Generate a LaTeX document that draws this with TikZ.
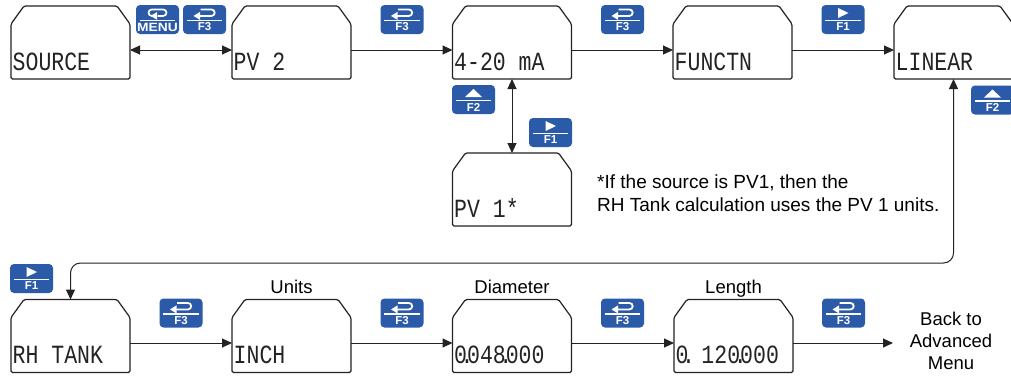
\documentclass[tikz,border=0pt]{standalone}
\usepackage{graphicx}
\usepackage{fontspec}
\setmainfont{Liberation Sans}
\newfontfamily\lcdfont{Liberation Mono}
\usetikzlibrary{arrows.meta}
\definecolor{keyblue}{RGB}{42,90,168}
\definecolor{linegray}{RGB}{35,35,35}
\newcommand\lcd[1]{\scalebox{1}[1.22]{\lcdfont\fontsize{21.5}{22}\selectfont #1}}
\newcommand\dotpt{\makebox[0pt]{.}}
\tikzset{
  x=1pt, y=-1pt,
  boxnode/.style={rectangle, draw=none, minimum width=119pt, minimum height=73pt, inner sep=0pt, outer sep=0pt},
  boxline/.style={draw=linegray, line width=1.2pt, rounded corners=1.5pt},
  lcdlabel/.style={anchor=base west, inner sep=0pt, text=linegray},
  keynode/.style={rectangle, rounded corners=4pt, fill=keyblue, draw=none, minimum width=43pt, minimum height=29pt, inner sep=0pt},
  keylabel/.style={text=white, inner sep=0pt, font=\bfseries\fontsize{11.5}{12}\selectfont},
  arr/.style={-{Triangle[length=10pt,width=9pt]}, line width=1pt, draw=linegray},
  dbl/.style={{Triangle[length=10pt,width=9pt]}-{Triangle[length=10pt,width=9pt]}, line width=1pt, draw=linegray},
  lbl/.style={inner sep=0pt, font=\fontsize{18.5}{22}\selectfont},
  retkey/.pic={
    \draw[white, line width=1.8pt] (-4,-10) -- (7,-10) arc[start angle=-90, end angle=90, radius=3.2] -- (-5,-3.6);
    \fill[white] (-11,-3.6) -- (-4.5,-7.6) -- (-4.5,0.4) -- cycle;
  },
  menukey/.pic={
    \draw[white, line width=1.7pt, rounded corners=3.2pt] (0,-3.6) -- (9,-3.6) -- (9,-10) -- (-9,-10) -- (-9,-3.6) -- (-6,-3.6);
    \fill[white] (-7,-3.6) -- (-0.5,-7.4) -- (-0.5,0.2) -- cycle;
  },
  rightkey/.pic={
    \fill[white] (-5,-11.5) -- (5.5,-6.5) -- (-5,-1.5) -- cycle;
  },
  upkey/.pic={
    \fill[white] (-8.5,-2.5) -- (0,-10.5) -- (8.5,-2.5) -- cycle;
  }
}
\newcommand\lcdbox[3]{%
  \node[boxnode] (#1) at (#2) {};
  \draw[boxline] (#1.south west) -- ([yshift=-18pt]#1.north west) -- ([xshift=13pt]#1.north west)
     -- ([xshift=-13pt]#1.north east) -- ([yshift=-18pt]#1.north east) -- (#1.south east) -- cycle;
  \node[lcdlabel] (#1-t) at ([xshift=1.5pt,yshift=9pt]#1.south west) {\lcd{#3}};
}
\newcommand\keybtn[4]{%
  \node[keynode] (#1) at (#2) {};
  \pic at (#1.center) {#3};
  \draw[white, line width=1.4pt] ([xshift=4pt,yshift=-1pt]#1.west) -- ([xshift=-4pt,yshift=-1pt]#1.east);
  \node[keylabel] (#1-l) at ([yshift=-7.5pt]#1.center) {#4};
}
\begin{document}
\begin{tikzpicture}
\fill[white] (0,0) rectangle (1011,375);
\useasboundingbox (0,0) rectangle (1011,375);

% top row
\lcdbox{src}{70.5,42.5}{SOURCE}
\lcdbox{pv2}{291.5,42.5}{PV 2}
\lcdbox{ma}{512,42.5}{4-20 mA}
\lcdbox{fun}{732.5,42.5}{FUNCTN}
\lcdbox{lin}{953.5,42.5}{LINEAR}
\lcdbox{pv1}{512,189.5}{PV 1*}

% bottom row
\lcdbox{rh}{70.5,336}{RH TANK}
\lcdbox{inch}{291.5,336}{INCH}
\lcdbox{dia}{512,336}{0\dotpt048\dotpt000}
\lcdbox{len}{733.5,336}{0\dotpt\ 120\dotpt000}

% keys
\keybtn{kmenu}{157.5,19.5}{menukey}{\scalebox{1.15}[1]{\fontsize{12}{12}\selectfont MENU}}
\keybtn{kf3a}{204.5,19.5}{retkey}{F3}
\keybtn{kf3b}{402,19.5}{retkey}{F3}
\keybtn{kf3c}{622.5,19.5}{retkey}{F3}
\keybtn{kf1a}{843,19.5}{rightkey}{F1}
\keybtn{kf2a}{473.5,99.5}{upkey}{F2}
\keybtn{kf1b}{550.5,132.5}{rightkey}{F1}
\keybtn{kf2b}{992.5,100}{upkey}{F2}
\keybtn{kf1c}{31.5,278.5}{rightkey}{F1}
\keybtn{kf3d}{181,313}{retkey}{F3}
\keybtn{kf3e}{402,313}{retkey}{F3}
\keybtn{kf3f}{622.5,313}{retkey}{F3}
\keybtn{kf3g}{843.5,313}{retkey}{F3}

% connectors
\draw[dbl] ([yshift=-7.5pt]src.east) -- ([yshift=-7.5pt]pv2.west);
\draw[arr] ([yshift=-7.5pt]pv2.east) -- ([yshift=-7.5pt]ma.west);
\draw[arr] ([yshift=-7.5pt]ma.east) -- ([yshift=-7.5pt]fun.west);
\draw[arr] ([yshift=-7.5pt]fun.east) -- ([yshift=-7.5pt]lin.west);
\draw[dbl] (ma.south) -- (pv1.north);

\coordinate (route) at (0,263);
\draw[dbl, rounded corners=10pt] (lin.south) -- (lin.south |- route) -- (rh.north |- route) -- (rh.north);

\draw[arr] ([yshift=-7pt]rh.east) -- ([yshift=-7pt]inch.west);
\draw[arr] ([yshift=-7pt]inch.east) -- ([yshift=-7pt]dia.west);
\draw[arr] ([yshift=-7pt]dia.east) -- ([yshift=-7pt]len.west);
\coordinate (backpt) at (893,343);
\draw[arr] ([yshift=-7pt]len.east) -- (backpt);

% labels
\node[lbl, anchor=base] (lunits) at ([yshift=6pt]inch.north) {Units};
\node[lbl, anchor=base] (ldia) at ([yshift=6pt]dia.north) {Diameter};
\node[lbl, anchor=base] (llen) at ([yshift=6pt]len.north) {Length};
\node[lbl, align=center] (back) at (951,341) {Back to\\Advanced\\Menu};

\node[inner sep=0pt, anchor=base west, font=\fontsize{19}{23}\selectfont] (note1) at (597,188) {*If the source is PV1, then the};
\node[inner sep=0pt, anchor=base west, font=\fontsize{19}{23}\selectfont] (note2) at (597,211) {RH Tank calculation uses the PV 1 units.};
\end{tikzpicture}
\end{document}
